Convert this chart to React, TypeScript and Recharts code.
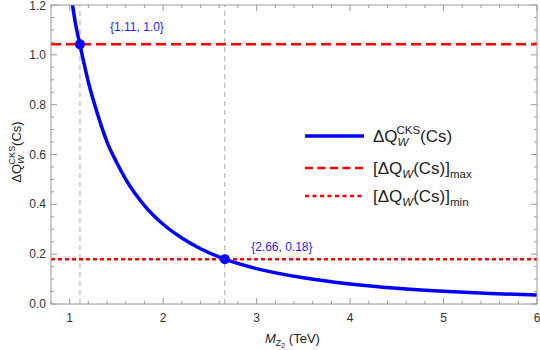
import React from 'react';
import {
  ComposedChart, Line, Scatter, XAxis, YAxis, ReferenceLine,
} from 'recharts';

// curve
const CURVE_X = [1.03, 1.06, 1.11, 1.2, 1.3, 1.4, 1.5, 1.6, 1.8, 2.0, 2.2, 2.4, 2.66, 3.0, 3.5, 4.0, 4.5, 5.0, 5.5, 6.0];
const CURVE_Y = [1.2, 1.13, 1.04, 0.89, 0.76, 0.65, 0.57, 0.5, 0.395, 0.32, 0.265, 0.222, 0.18, 0.142, 0.105, 0.08, 0.063, 0.051, 0.042, 0.036];

// marked points and their labels
const POINT_X = [1.11, 2.66];
const POINT_Y = [1.042, 0.18];
const POINT_LABELS = ['{1.11, 1.0}', '{2.66, 0.18}'];

// bounds
const Q_MAX = 1.042;
const Q_MIN = 0.18;

const X_TICKS = [0.8, 1, 1.2, 1.4, 1.6, 1.8, 2, 2.2, 2.4, 2.6, 2.8, 3, 3.2, 3.4, 3.6, 3.8, 4, 4.2, 4.4, 4.6, 4.8, 5, 5.2, 5.4, 5.6, 5.8, 6];
const X_LABELS = [1, 2, 3, 4, 5, 6];
const Y_TICKS = [0, 0.05, 0.1, 0.15, 0.2, 0.25, 0.3, 0.35, 0.4, 0.45, 0.5, 0.55, 0.6, 0.65, 0.7, 0.75, 0.8, 0.85, 0.9, 0.95, 1, 1.05, 1.1, 1.15, 1.2];
const Y_LABELS = [0, 0.2, 0.4, 0.6, 0.8, 1.0, 1.2];

const curveData = CURVE_X.map((x, i) => ({ x, y: CURVE_Y[i] }));
const pointData = POINT_X.map((x, i) => ({ x, y: POINT_Y[i], label: POINT_LABELS[i] }));

const W = 540;
const H = 350;
const X_AXIS_H = 30;
const Y_AXIS_W = 40;
const MARGIN = { top: 5, right: 3, bottom: 46 - X_AXIS_H, left: 51 - Y_AXIS_W };
const PLOT_TOP = 5;
const PLOT_BOTTOM = H - 46;
const PLOT_LEFT = 51;
const PLOT_RIGHT = W - 3;

const FRAME = '#9a9a9a';
const BLUE = '#0000ff';
const RED = '#ff0000';
const FONT = '"Liberation Sans", Arial, sans-serif';

const isIn = (v: number, list: number[]) => list.some((l) => Math.abs(l - v) < 1e-6);

const XTick = (props: any) => {
  const { x, payload } = props;
  const v = payload.value;
  const major = isIn(v, X_LABELS);
  const len = major ? 6 : 3;
  return (
    <g>
      <line x1={x} x2={x} y1={PLOT_BOTTOM} y2={PLOT_BOTTOM - len} stroke={FRAME} />
      <line x1={x} x2={x} y1={PLOT_TOP} y2={PLOT_TOP + len} stroke={FRAME} />
      {major && (
        <text x={x} y={PLOT_BOTTOM + 18} textAnchor="middle" fontSize={12} fill="#333" fontFamily={FONT}>
          {Math.round(v)}
        </text>
      )}
    </g>
  );
};

const YTick = (props: any) => {
  const { y, payload } = props;
  const v = payload.value;
  const major = isIn(v, Y_LABELS);
  const len = major ? 6 : 3;
  // keep the top label inside the picture
  const ty = Math.max(y + 4, 10);
  return (
    <g>
      <line x1={PLOT_LEFT} x2={PLOT_LEFT + len} y1={y} y2={y} stroke={FRAME} />
      <line x1={PLOT_RIGHT} x2={PLOT_RIGHT - len} y1={y} y2={y} stroke={FRAME} />
      {major && (
        <text x={PLOT_LEFT - 5} y={ty} textAnchor="end" fontSize={12} fill="#333" fontFamily={FONT}>
          {v.toFixed(1)}
        </text>
      )}
    </g>
  );
};

const PointShape = (props: any) => {
  const { cx, cy, payload } = props;
  return (
    <g>
      <circle cx={cx} cy={cy} r={5} fill={BLUE} />
      <text x={cx + 57} y={payload.x < 2 ? cy - 13 : cy - 8} textAnchor="middle" fontSize={12} fill="#1f1fff" fontFamily={FONT}>
        {payload.label}
      </text>
    </g>
  );
};

export default function App() {
  const legendX = 305;
  return (
    <div style={{ position: 'absolute', left: 0, top: 0, width: W, height: H, background: '#fff' }}>
      <ComposedChart width={W} height={H} data={curveData} margin={MARGIN}>
        <XAxis
          dataKey="x"
          type="number"
          domain={[0.8, 6]}
          ticks={X_TICKS}
          interval={0}
          height={X_AXIS_H}
          tickSize={0}
          tickLine={false}
          tick={<XTick />}
          axisLine={{ stroke: FRAME }}
          allowDataOverflow
        />
        <YAxis
          type="number"
          domain={[0, 1.2]}
          ticks={Y_TICKS}
          interval={0}
          width={Y_AXIS_W}
          tickSize={0}
          tickLine={false}
          tick={<YTick />}
          axisLine={{ stroke: FRAME }}
          allowDataOverflow
        />
        <ReferenceLine x={POINT_X[0]} stroke="#a8a8a8" strokeDasharray="5 4" />
        <ReferenceLine x={POINT_X[1]} stroke="#a8a8a8" strokeDasharray="5 4" />
        <ReferenceLine y={Q_MAX} stroke={RED} strokeWidth={2.5} strokeDasharray="10 5" />
        <ReferenceLine y={Q_MIN} stroke={RED} strokeWidth={2.5} strokeDasharray="4 3" />
        <Line
          dataKey="y"
          type="monotone"
          stroke={BLUE}
          strokeWidth={3.5}
          dot={false}
          isAnimationActive={false}
        />
        <Scatter data={pointData} dataKey="y" shape={<PointShape />} isAnimationActive={false} />
      </ComposedChart>

      <svg width={W} height={H} style={{ position: 'absolute', left: 0, top: 0, pointerEvents: 'none' }} fontFamily={FONT}>
        {/* top and right frame */}
        <polyline
          points={`${PLOT_LEFT},${PLOT_TOP} ${PLOT_RIGHT},${PLOT_TOP} ${PLOT_RIGHT},${PLOT_BOTTOM}`}
          fill="none"
          stroke={FRAME}
        />
        {/* y-axis title */}
        <text transform="translate(21,152) rotate(-90)" textAnchor="middle" fontSize={13} fill="#222">
          ΔQ
          <tspan fontSize={9} fontStyle="italic" dy={3}>W</tspan>
          <tspan fontSize={9} dx={-9} dy={-9}>CKS</tspan>
          <tspan dy={6}>(Cs)</tspan>
        </text>
        {/* x-axis title */}
        <text x={265} y={343} fontSize={13} fill="#222">
          <tspan fontStyle="italic">M</tspan>
          <tspan fontSize={9} dy={3}>Z</tspan>
          <tspan fontSize={7} dy={2}>2</tspan>
          <tspan dy={-5}>{'  (TeV)'}</tspan>
        </text>
        {/* legend */}
        <line x1={legendX} x2={legendX + 59} y1={136} y2={136} stroke={BLUE} strokeWidth={3.5} />
        <line x1={legendX} x2={legendX + 59} y1={168} y2={168} stroke={RED} strokeWidth={2.5} strokeDasharray="8 4.5" />
        <line x1={legendX} x2={legendX + 59} y1={196} y2={196} stroke={RED} strokeWidth={2.5} strokeDasharray="4 3.5" />
        <text x={373} y={142} fontSize={17} fill="#222">
          ΔQ
          <tspan fontSize={11.5} fontStyle="italic" dy={4}>W</tspan>
          <tspan fontSize={11.5} dx={-12} dy={-12}>CKS</tspan>
          <tspan dy={8}>(Cs)</tspan>
        </text>
        <text x={373} y={174} fontSize={17} fill="#222">
          [ΔQ
          <tspan fontSize={11.5} fontStyle="italic" dy={4}>W</tspan>
          <tspan dy={-4}>(Cs)]</tspan>
          <tspan fontSize={11.5} dy={4}>max</tspan>
        </text>
        <text x={373} y={202} fontSize={17} fill="#222">
          [ΔQ
          <tspan fontSize={11.5} fontStyle="italic" dy={4}>W</tspan>
          <tspan dy={-4}>(Cs)]</tspan>
          <tspan fontSize={11.5} dy={4}>min</tspan>
        </text>
      </svg>
    </div>
  );
}
